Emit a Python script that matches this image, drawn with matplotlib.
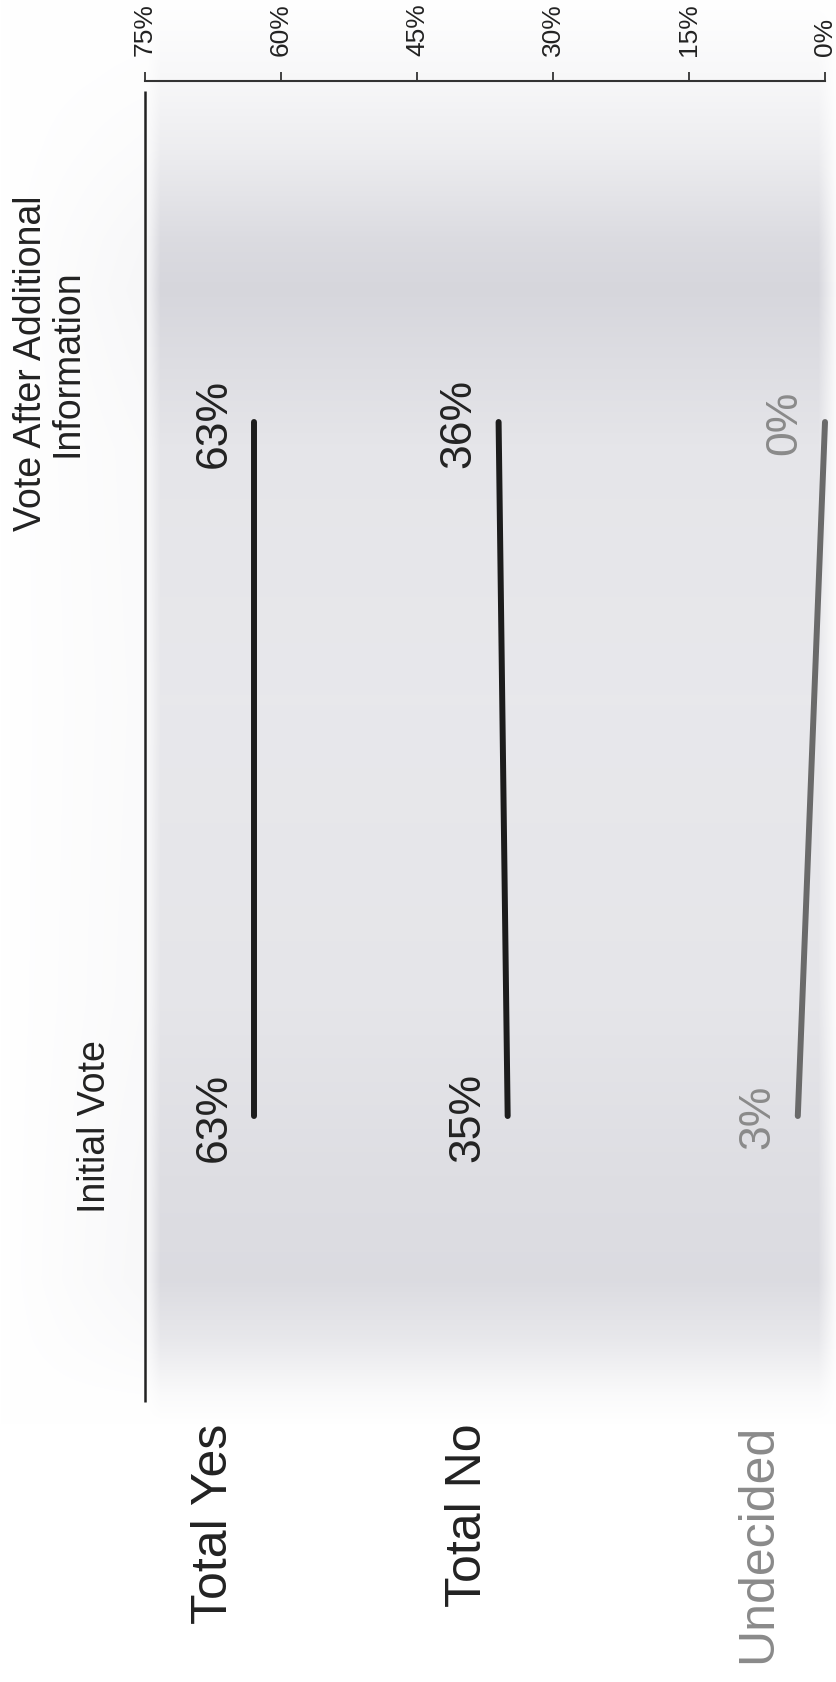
import numpy as np
import matplotlib
matplotlib.use("Agg")
import matplotlib.pyplot as plt

# ---------------- data ----------------
categories = ["Total Yes", "Total No", "Undecided"]
initial_vote = [63, 35, 3]
after_info = [63, 36, 0]
stage_labels = ["Initial Vote", "Vote After Additional\nInformation"]
tick_values = [75, 60, 45, 30, 15, 0]
tick_labels = ["75%", "60%", "45%", "30%", "15%", "0%"]

line_colors = ["#1c1c1c", "#1c1c1c", "#6a6a6a"]
label_colors = ["#222222", "#222222", "#8a8a8a"]

plt.rcParams['font.family'] = ['Liberation Sans', 'DejaVu Sans']

W, H = 837, 1683
fig = plt.figure(figsize=(W / 100, H / 100), dpi=100)

# ---------------- scanned-paper background shading ----------------
bg = fig.add_axes([0, 0, 1, 1])
bg.set_axis_off()
ys = np.arange(H)
xs = np.arange(W)
yk = [0, 80, 150, 240, 290, 340, 450, 700, 1000, 1180, 1280, 1340, 1395, 1425, H]
yd = [0, 0.03, 0.07, 0.14, 0.16, 0.14, 0.10, 0.09, 0.10, 0.13, 0.14, 0.09, 0.02, 0, 0]
xk = [0, 146, 160, 818, 836, W]
xd = [0, 0.2, 1, 1, 0.1, 0]
d = np.interp(ys, yk, yd)[:, None] * np.interp(xs, xk, xd)[None, :]
img = 1 - d[..., None] * np.array([1.0, 1.0, 0.85])
bg.imshow(np.clip(img, 0, 1), aspect='auto', zorder=0)

# ---------------- main axes ----------------
left, right = 145 / W, 825 / W
top, bottom = 1 - 82 / H, 1 - 1403 / H
ax = fig.add_axes([left, bottom, right - left, top - bottom])
ax.set_facecolor('none')
ax.set_xlim(75, 0)
y_stage = [0, 1]
y_lo, y_hi = -0.4121, 1.4914
ax.set_ylim(y_lo, y_hi)

for s in ['left', 'right', 'bottom']:
    ax.spines[s].set_visible(False)
ax.spines['top'].set_linewidth(1.5)
ax.spines['top'].set_color('#333333')
ax.xaxis.tick_top()
ax.set_xticks(tick_values)
ax.set_xticklabels(tick_labels, rotation=90, fontsize=19, color='#222222')
ax.tick_params(axis='x', direction='out', length=6.5, width=1.3,
               color='#333333', pad=12)
ax.set_yticks([])

# frame line along the 75% edge
ax.plot([75, 75], [y_lo, y_hi - 0.015], color='#222222', lw=1.8,
        clip_on=False, solid_capstyle='butt')

# slope lines + value labels
for i, cat in enumerate(categories):
    vals = [initial_vote[i], after_info[i]]
    ax.plot(vals, y_stage, color=line_colors[i], lw=4.3,
            solid_capstyle='round', clip_on=False)
    for v, yv in zip(vals, y_stage):
        ax.annotate(f"{v}%", xy=(v, yv), xytext=(-14, 0),
                    textcoords='offset points', rotation=90,
                    ha='right', va='center', fontsize=32,
                    color=label_colors[i])
    ax.annotate(cat, xy=(initial_vote[i], y_lo), xytext=(-12, -15),
                textcoords='offset points', rotation=90,
                ha='right', va='top', fontsize=36,
                color=label_colors[i], annotation_clip=False)

# stage headers
ax.annotate(stage_labels[0], xy=(75, y_stage[0]), xytext=(-23, -7),
            textcoords='offset points', rotation=90, ha='right',
            va='center', fontsize=27, color='#222222',
            annotation_clip=False)
ax.annotate(stage_labels[1], xy=(75, y_stage[1]), xytext=(-43, 43),
            textcoords='offset points', rotation=90, ha='right',
            va='center', fontsize=27, color='#222222',
            multialignment='center', linespacing=1.0,
            annotation_clip=False)

fig.savefig("out.png", dpi=100)
